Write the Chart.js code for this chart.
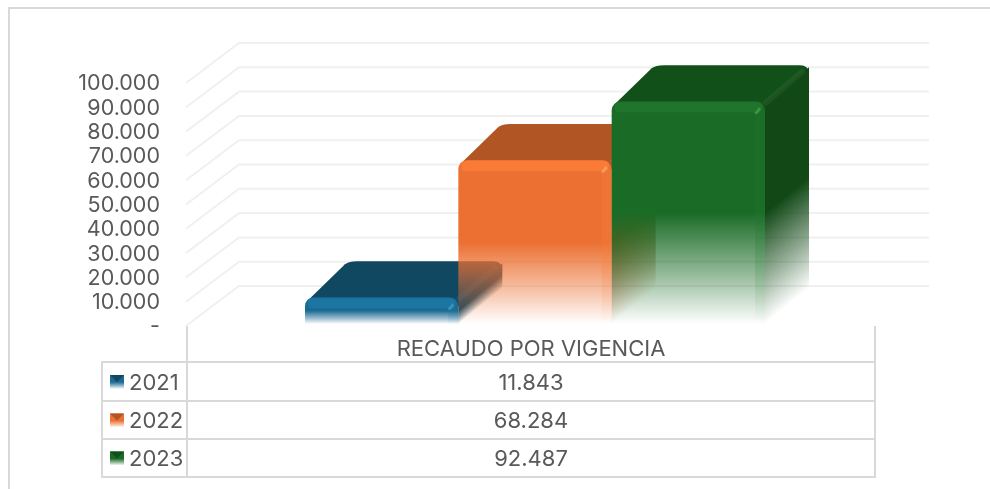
<!DOCTYPE html>
<html lang="es">
<head>
<meta charset="utf-8">
<style>
html,body{margin:0;padding:0;background:#fff;overflow:hidden}
#wrap{position:relative;width:990px;height:489px}
canvas{display:block}
</style>
<script src="https://cdn.jsdelivr.net/npm/chart.js@4/dist/chart.umd.min.js"></script>
</head>
<body>
<div id="wrap"><canvas id="c" width="990" height="489"></canvas></div>
<script>
const categories = ['RECAUDO POR VIGENCIA'];
const seriesNames = ['2021', '2022', '2023'];
const recaudo2021 = [11843];
const recaudo2022 = [68284];
const recaudo2023 = [92487];
const axisMax = 100000;
const axisStep = 10000;

const palette = [
  {front:'26,106,147', bevel:'29,118,163', top:'16,71,97', side:'16,71,97', shine:'70,160,190'},
  {front:'235,112,50', bevel:'250,124,54', top:'176,85,35', side:'176,85,35', shine:'250,170,110'},
  {front:'26,107,38',  bevel:'31,118,44',  top:'18,80,26', side:'17,72,22', shine:'80,160,90'}
];
const FONT_SIZE = 21.5;
const TABLE_FONT_SIZE = 22;
const FONT_FAMILY = 'Inter, "Open Sans", sans-serif';
const TEXT = '#595959';
const LINE = '#d9d9d9';
const GRID = '#f0f0f0';
const WALL_DX = 53, WALL_DY = 40, WALL_RIGHT = 929;
const DEPTH_DX = 44, DEPTH_DY = 36;
const R = 9;
const fmt = v => v === 0 ? '-' : String(v).replace(/\B(?=(\d{3})+$)/g, '.');

function fadeGradient(ctx, yTop, yBase, rgb, k = 1){
  const g = ctx.createLinearGradient(0, yTop, 0, yBase);
  g.addColorStop(0, `rgba(${rgb},${k})`);
  g.addColorStop(0.5, `rgba(${rgb},${k})`);
  g.addColorStop(0.8, `rgba(${rgb},${0.42 * k})`);
  g.addColorStop(1, `rgba(${rgb},0)`);
  return g;
}

function drawFaces(chart, index){
  const {ctx} = chart;
  const el = chart.getDatasetMeta(index).data[0];
  const c = palette[index];
  const l = el.x - el.width/2, r = el.x + el.width/2, t = el.y, b = el.base - 2;
  ctx.save();
  ctx.fillStyle = `rgb(${c.top})`;
  ctx.beginPath();
  ctx.moveTo(l + 2, t + 4);
  ctx.lineTo(l + DEPTH_DX - 4, t - DEPTH_DY + 3);
  ctx.quadraticCurveTo(l + DEPTH_DX, t - DEPTH_DY, l + DEPTH_DX + 8, t - DEPTH_DY);
  ctx.lineTo(r + DEPTH_DX - R, t - DEPTH_DY);
  ctx.quadraticCurveTo(r + DEPTH_DX, t - DEPTH_DY, r + DEPTH_DX, t - DEPTH_DY + R);
  ctx.lineTo(r, t + R);
  ctx.closePath();
  ctx.fill();
  ctx.save();
  ctx.transform(1, -DEPTH_DY/DEPTH_DX, 0, 1, r, t);
  ctx.beginPath();
  ctx.moveTo(0, 2);
  ctx.lineTo(DEPTH_DX, 2);
  ctx.lineTo(DEPTH_DX, b - t);
  ctx.lineTo(0, b - t);
  ctx.closePath();
  ctx.fillStyle = fadeGradient(ctx, 0, b - t, c.side);
  ctx.fill();
  ctx.restore();
  // soft lighter edge between the top and side faces
  ctx.strokeStyle = 'rgba(255,255,255,0.05)';
  ctx.lineWidth = 6;
  ctx.beginPath();
  ctx.moveTo(r - 1, t + 3);
  ctx.lineTo(r + DEPTH_DX - 5, t - DEPTH_DY + 5);
  ctx.stroke();
  ctx.restore();
}

function drawBevels(chart, index){
  const {ctx} = chart;
  const el = chart.getDatasetMeta(index).data[0];
  const c = palette[index];
  const l = el.x - el.width/2, r = el.x + el.width/2, t = el.y, b = el.base - 2;
  ctx.save();
  ctx.fillStyle = fadeGradient(ctx, t, b, c.bevel, 0.9);
  ctx.beginPath();
  ctx.roundRect(l + 3, t + 1, r - l - 6, 10, 4);
  ctx.fill();
  ctx.fillStyle = fadeGradient(ctx, t, b, c.bevel, 0.3);
  ctx.fillRect(r - 10, t + 10, 10, b - t - 10);
  ctx.fillStyle = `rgba(${c.shine},0.7)`;
  ctx.beginPath();
  ctx.moveTo(r - 11, t + 12); ctx.lineTo(r - 6, t + 6); ctx.lineTo(r - 4, t + 8); ctx.lineTo(r - 8, t + 13);
  ctx.closePath(); ctx.fill();
  ctx.restore();
}

const frame3d = {
  id:'frame3d',
  beforeDatasetsDraw(chart){
    const {ctx, scales:{y}} = chart;
    const left = y.right;
    ctx.save();
    ctx.strokeStyle = LINE; ctx.lineWidth = 2;
    ctx.beginPath(); ctx.moveTo(9, 489); ctx.lineTo(9, 8); ctx.lineTo(990, 8); ctx.stroke();
    ctx.strokeStyle = GRID; ctx.lineWidth = 2;
    y.ticks.forEach(t => {
      const py = y.getPixelForValue(t.value);
      ctx.beginPath();
      ctx.moveTo(left, py);
      ctx.lineTo(left + WALL_DX, py - WALL_DY);
      ctx.lineTo(WALL_RIGHT, py - WALL_DY);
      ctx.stroke();
    });
    ctx.restore();
  },
  // The default order paints the last dataset first; the 2021 bar must be at the back.
  beforeDatasetDraw(){ return false; },
  afterDatasetsDraw(chart){
    seriesNames.forEach((_, i) => {
      drawFaces(chart, i);
      chart.getDatasetMeta(i).controller.draw();
      drawBevels(chart, i);
    });
  },
  afterDraw(chart){
    const {ctx, scales:{y}} = chart;
    const colL = 102, colM = 187, colR = 875;
    const rowY = [362, 401, 439, 477];
    const axisY = y.bottom;
    const values = [recaudo2021[0], recaudo2022[0], recaudo2023[0]];
    ctx.save();
    ctx.strokeStyle = LINE; ctx.lineWidth = 2;
    ctx.beginPath();
    ctx.moveTo(colM, axisY); ctx.lineTo(colM, rowY[3]);
    ctx.moveTo(colR, axisY); ctx.lineTo(colR, rowY[3]);
    ctx.moveTo(colL, rowY[0]); ctx.lineTo(colL, rowY[3]);
    rowY.forEach(v => { ctx.moveTo(colL - 1, v); ctx.lineTo(colR + 1, v); });
    ctx.stroke();
    ctx.font = `${TABLE_FONT_SIZE}px ${FONT_FAMILY}`; ctx.fillStyle = TEXT; ctx.textBaseline = 'middle';
    ctx.textAlign = 'center';
    ctx.fillText(categories[0], (colM + colR)/2, 349);
    seriesNames.forEach((name, i) => {
      const cy = (rowY[i] + rowY[i+1])/2 + 0.5;
      ctx.textAlign = 'center'; ctx.fillStyle = TEXT;
      ctx.fillText(fmt(values[i]), (colM + colR)/2, cy + 1);
      ctx.textAlign = 'left';
      ctx.fillText(name, 129, cy + 1);
      const kx = 110, ky = cy - 7, kw = 14, kh = 14, c = palette[i];
      ctx.fillStyle = fadeGradient(ctx, ky, ky + kh, c.front);
      ctx.fillRect(kx, ky, kw, kh);
      ctx.fillStyle = `rgb(${c.top})`;
      ctx.beginPath();
      ctx.moveTo(kx, ky); ctx.lineTo(kx + kw, ky); ctx.lineTo(kx + kw/2, ky + kh/2); ctx.closePath();
      ctx.fill();
    });
    ctx.restore();
  }
};

new Chart(document.getElementById('c'), {
  type:'bar',
  data:{
    labels:categories,
    datasets:[recaudo2021, recaudo2022, recaudo2023].map((vals, i) => ({
      label:seriesNames[i],
      data:vals,
      borderRadius:{topLeft:R, topRight:R, bottomLeft:0, bottomRight:0},
      borderSkipped:false,
      backgroundColor(ctx){
        const area = ctx.chart.chartArea;
        if(!area) return `rgb(${palette[i].front})`;
        const yTop = ctx.chart.scales.y.getPixelForValue(vals[0]);
        const yBase = ctx.chart.scales.y.bottom - 2;
        return fadeGradient(ctx.chart.ctx, yTop, yBase, palette[i].front);
      }
    }))
  },
  plugins:[frame3d],
  options:{
    responsive:false,
    animation:false,
    devicePixelRatio:1,
    layout:{padding:{top:83, bottom:163, left:0, right:106}},
    plugins:{legend:{display:false}, tooltip:{enabled:false}},
    scales:{
      x:{ display:false, grid:{display:false} },
      y:{
        min:0, max:axisMax,
        grid:{display:false}, border:{display:false},
        afterFit(s){ s.width = 186; },
        ticks:{
          stepSize:axisStep, color:TEXT, padding:18, autoSkip:false, labelOffset:1,
          font:{family:FONT_FAMILY, size:FONT_SIZE},
          callback:fmt
        }
      }
    },
    datasets:{bar:{categoryPercentage:460/698, barPercentage:1}}
  }
});
</script>
</body>
</html>
